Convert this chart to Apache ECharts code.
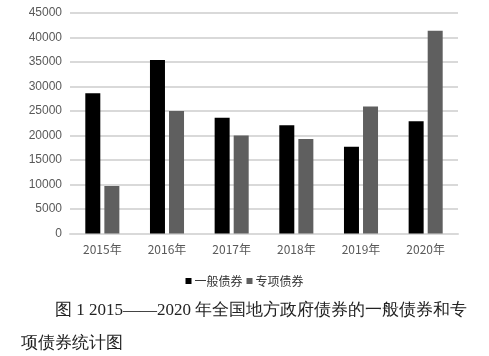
<!DOCTYPE html>
<html><head><meta charset="utf-8">
<script src="https://cdn.jsdelivr.net/npm/echarts@6/dist/echarts.min.js"></script>
<style>html,body{margin:0;padding:0;background:#fff}#c{width:489px;height:356px}</style>
</head><body><div id="c"></div>
<script>
var categories = ['2015年','2016年','2017年','2018年','2019年','2020年'];
var generalBonds = [28600, 35400, 23600, 22100, 17700, 22900];
var specialBonds = [9700, 25000, 20000, 19300, 25900, 41400];
var seriesNames = ['一般债券','专项债券'];
var captionLine1 = '图 1 2015——2020 年全国地方政府债券的一般债券和专';
var captionLine2 = '项债券统计图';

var chart = echarts.init(document.getElementById('c'));
chart.setOption({
  animation: false,
  backgroundColor: '#fff',
  grid: {left: 70, right: 31, top: 13, bottom: 122.5},
  legend: {
    data: seriesNames, left: 'center', top: 270,
    itemWidth: 6, itemHeight: 6, itemGap: 4,
    icon: 'rect',
    textStyle: {fontSize: 12, color: '#333', padding: [0,0,0,-2], fontFamily: 'Noto Sans CJK SC'}
  },
  xAxis: {
    type: 'category', data: categories,
    axisLine: {lineStyle: {color: '#d9d9d9', width: 2}},
    axisTick: {show: false},
    axisLabel: {color: '#595959', fontSize: 12, margin: 10, fontFamily: 'Noto Sans CJK SC'}
  },
  yAxis: {
    type: 'value', min: 0, max: 45000, interval: 5000,
    axisLine: {show: false}, axisTick: {show: false},
    axisLabel: {color: '#595959', fontSize: 12, margin: 8, fontFamily: 'Liberation Sans',
      formatter: function (v) { return String(v); }},
    splitLine: {lineStyle: {color: '#d9d9d9', width: 2}}
  },
  series: [
    {name: seriesNames[0], type: 'bar', data: generalBonds, barWidth: 15, barGap: '27%', itemStyle: {color: '#000000'}},
    {name: seriesNames[1], type: 'bar', data: specialBonds, barWidth: 15, itemStyle: {color: '#5f5f5f'}}
  ],
  graphic: [
    {type: 'text', left: 55, top: 302, style: {text: captionLine1, fontSize: 17, fill: '#222', fontFamily: 'serif'}},
    {type: 'text', left: 21, top: 335, style: {text: captionLine2, fontSize: 17, fill: '#222', fontFamily: 'serif'}}
  ]
});
</script></body></html>
